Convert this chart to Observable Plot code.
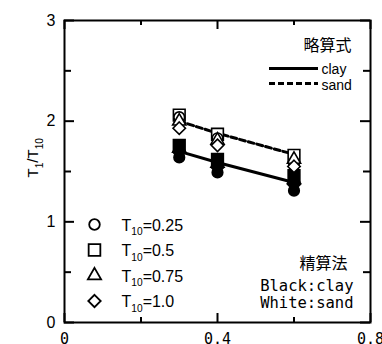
<!DOCTYPE html>
<html><head><meta charset="utf-8">
<script src="https://cdn.jsdelivr.net/npm/d3@7"></script>
<script src="https://cdn.jsdelivr.net/npm/@observablehq/plot@0.6"></script>
<style>body{margin:0;background:#fff}</style>
</head><body><div id="chart"></div>
<script>
// ---- data ----
const xValues = [0.3, 0.4, 0.6];
const t10Levels = ["0.25", "0.5", "0.75", "1.0"];
// 精算法 (exact method) results, one array per T10 level
const clay025 = [1.64, 1.49, 1.31];
const clay050 = [1.76, 1.62, 1.46];
const clay075 = [1.73, 1.58, 1.42];
const clay100 = [1.69, 1.54, 1.37];
const sand025 = [2.04, 1.83, 1.58];
const sand050 = [2.06, 1.87, 1.66];
const sand075 = [2.00, 1.81, 1.62];
const sand100 = [1.93, 1.76, 1.55];
// 略算式 (approximate formula)
const clayApprox = [1.70, 1.59, 1.39];
const sandApprox = [2.00, 1.88, 1.67];
// ticks
const xTickLabels = [0, 0.4, 0.8];
const xTicksMinor = [0.2, 0.6];
const yTickLabels = [0, 1, 2, 3];
const yTicksMinor = [0.5, 1.5, 2.5];
const soilNames = ["clay", "sand"];

// ---- layout / style ----
const W = 382, H = 344;
const M = {top: 20, right: 12, bottom: 22, left: 64};
const innerW = W - M.left - M.right, innerH = H - M.top - M.bottom;
const symbolStyle = [
  {symbol: "circle", r: 5.3},
  {symbol: "square", r: 6.6},
  {symbol: "triangle", r: 4.9},
  {symbol: "diamond2", r: 5.6}
];
const sansFont = "'Liberation Sans', Arial, sans-serif";
const monoFont = "'DejaVu Sans Mono', monospace";
const cjkFont = "'Noto Sans CJK JP', sans-serif";

const claySeries = [clay025, clay050, clay075, clay100];
const sandSeries = [sand025, sand050, sand075, sand100];
const rowsOf = arr => arr.map((v, i) => ({x: xValues[i], y: v}));

// draw order for open markers: square, circle, triangle, diamond
const drawOrder = [1, 0, 2, 3];

const marks = [];
// approximate lines
marks.push(Plot.line(rowsOf(clayApprox), {x: "x", y: "y", stroke: "black", strokeWidth: 3}));
marks.push(Plot.line(rowsOf(sandApprox), {x: "x", y: "y", stroke: "black", strokeWidth: 3, strokeDasharray: "6,3"}));
// clay: black filled
for (const i of drawOrder) {
  marks.push(Plot.dot(rowsOf(claySeries[i]), {x: "x", y: "y", symbol: symbolStyle[i].symbol, r: symbolStyle[i].r, fill: "black", stroke: "black", strokeWidth: 1.6}));
}
// sand: white filled
for (const i of drawOrder) {
  marks.push(Plot.dot(rowsOf(sandSeries[i]), {x: "x", y: "y", symbol: symbolStyle[i].symbol, r: symbolStyle[i].r, fill: "white", stroke: "black", strokeWidth: 1.6}));
}

// frame & inward ticks on all four sides
marks.push(Plot.frame({stroke: "black", strokeWidth: 2}));
const tickX = (vals, len) => [
  Plot.tickX(vals, {x: d => d, insetTop: innerH - len, stroke: "black", strokeWidth: 2}),
  Plot.tickX(vals, {x: d => d, insetBottom: innerH - len, stroke: "black", strokeWidth: 2})
];
const tickY = (vals, len) => [
  Plot.tickY(vals, {y: d => d, insetRight: innerW - len, stroke: "black", strokeWidth: 2}),
  Plot.tickY(vals, {y: d => d, insetLeft: innerW - len, stroke: "black", strokeWidth: 2})
];
marks.push(...tickX(xTickLabels, 9), ...tickX(xTicksMinor, 5));
marks.push(...tickY(yTickLabels, 10), ...tickY(yTicksMinor, 7));

// axis labels
marks.push(Plot.axisY(yTickLabels, {tickSize: 0, tickPadding: 9, fontSize: 16, fontFamily: sansFont, label: null, tickFormat: d => String(d)}));
marks.push(Plot.axisX(xTickLabels, {tickSize: 0, tickPadding: 11, fontSize: 15, fontFamily: monoFont, label: null, tickFormat: d => String(d)}));
marks.push(Plot.text(["T_{1}/T_{10}"], {text: d => d, frameAnchor: "left", lineAnchor: "middle", dx: -31, dy: 6, rotate: -90, fontSize: 15, fontFamily: sansFont, fill: "black"}));

// top-right legend: 略算式
marks.push(Plot.text(["略算式"], {text: d => d, frameAnchor: "top-right", lineAnchor: "middle", dx: -19, dy: 25, textAnchor: "end", fontSize: 16, fontFamily: cjkFont, fill: "black"}));
marks.push(Plot.ruleY([yTickLabels[yTickLabels.length - 1]], {dy: 48, insetLeft: 205, insetRight: 52, stroke: "black", strokeWidth: 3}));
marks.push(Plot.ruleY([yTickLabels[yTickLabels.length - 1]], {dy: 63, insetLeft: 205, insetRight: 52, stroke: "black", strokeWidth: 3, strokeDasharray: "6,3"}));
soilNames.forEach((s, i) => {
  marks.push(Plot.text([s], {text: d => d, frameAnchor: "top-right", lineAnchor: "middle", dx: -49, dy: 49 + i * 16, textAnchor: "start", fontSize: 14, fontFamily: sansFont, fill: "black", letterSpacing: "1.5px"}));
});

// bottom-left legend: symbols
t10Levels.forEach((lev, i) => {
  const dy = -98 + i * 25.5;
  marks.push(Plot.dot([lev], {frameAnchor: "bottom-left", dx: 30, dy, symbol: symbolStyle[i].symbol, r: symbolStyle[i].r, fill: "white", stroke: "black", strokeWidth: 1.8}));
  marks.push(Plot.text([lev], {text: d => `T_{10}=${d}`, frameAnchor: "bottom-left", lineAnchor: "middle", dx: 57, dy: dy + 1, textAnchor: "start", fontSize: 16, fontFamily: sansFont, fill: "black"}));
});

// bottom-right legend: 精算法
marks.push(Plot.text(["精算法"], {text: d => d, frameAnchor: "bottom-right", lineAnchor: "middle", dx: -23, dy: -59, textAnchor: "end", fontSize: 16, fontFamily: cjkFont, fill: "black"}));
["Black:clay", "White:sand"].forEach((s, i) => {
  marks.push(Plot.text([s], {text: d => d, frameAnchor: "bottom-right", lineAnchor: "middle", dx: -17, dy: -36 + i * 17, textAnchor: "end", fontSize: 15.5, fontFamily: monoFont, fill: "black"}));
});

const chart = Plot.plot({
  width: W, height: H,
  marginTop: M.top, marginRight: M.right, marginBottom: M.bottom, marginLeft: M.left,
  x: {domain: [0, 0.8]},
  y: {domain: [0, 3]},
  style: {fontFamily: sansFont, fontSize: "16px", background: "white", color: "black"},
  marks
});

// subscripts: turn "A_{b}" into tspans
chart.querySelectorAll("text").forEach(t => {
  const s = t.textContent;
  if (!s.includes("_{")) return;
  const fs = parseFloat(t.getAttribute("font-size")) || 16;
  const parts = s.split(/_\{([^}]*)\}/);
  while (t.firstChild) t.removeChild(t.firstChild);
  const ns = "http://www.w3.org/2000/svg";
  let shifted = 0;
  parts.forEach((p, k) => {
    if (p === "") return;
    const ts = document.createElementNS(ns, "tspan");
    ts.textContent = p;
    if (k % 2 === 1) {
      ts.setAttribute("font-size", (fs * 0.64).toFixed(1));
      ts.setAttribute("dy", (fs * 0.3 - shifted).toFixed(1));
      shifted = fs * 0.3;
    } else if (shifted) {
      ts.setAttribute("dy", (-shifted).toFixed(1));
      shifted = 0;
    }
    t.appendChild(ts);
  });
});

document.getElementById("chart").appendChild(chart);
</script>
</body></html>
